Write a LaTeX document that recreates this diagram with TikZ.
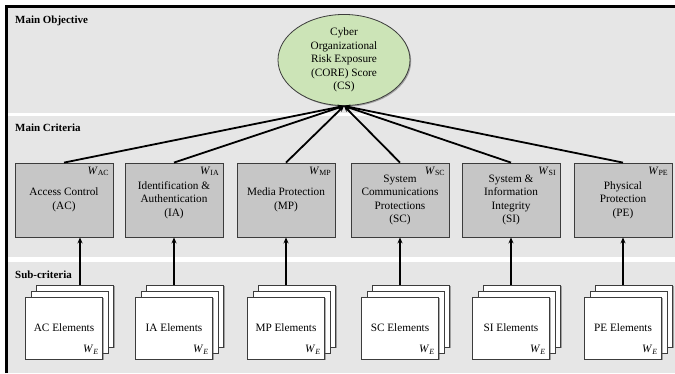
\documentclass[tikz,border=0pt]{standalone}
\usepackage{fontspec}
\setmainfont{Liberation Serif}
\usetikzlibrary{arrows.meta}
\usetikzlibrary{positioning}
\usetikzlibrary{shapes.geometric}
\usetikzlibrary{shadows}
\definecolor{coreBand}{HTML}{E6E6E6}
\definecolor{coreCrit}{HTML}{C6C6C6}
\definecolor{coreEdge}{HTML}{3C3C3C}
\definecolor{coreGreen}{HTML}{CCE4B7}
\tikzset{
  core crit/.style={
    rectangle,
    draw=coreEdge,
    line width=0.8bp,
    fill=coreCrit,
    minimum width=98bp,
    minimum height=74bp,
    align=center,
    inner sep=0pt,
    drop shadow={shadow xshift=1.2bp, shadow yshift=-1.2bp, fill=black!70, opacity=0.45},
  },
}
\tikzset{
  core elem/.style={
    rectangle,
    draw=coreEdge,
    line width=0.8bp,
    fill=white,
    minimum width=77bp,
    minimum height=62bp,
    align=center,
    inner sep=0pt,
    drop shadow={shadow xshift=1.2bp, shadow yshift=-1.2bp, fill=black!70, opacity=0.45},
  },
}
\tikzset{
  core weight/.style={
    anchor=north east,
    inner sep=0pt,
    xshift=-4bp,
    yshift=-4bp,
  },
}
\tikzset{
  core eweight/.style={
    anchor=south east,
    inner sep=0pt,
    xshift=-4bp,
    yshift=5bp,
  },
}
\tikzset{
  core band label/.style={
    anchor=west,
    inner sep=0pt,
    font=\fontsize{11}{13}\selectfont\bfseries,
  },
}
\tikzset{
  core link/.style={
    -{Stealth[length=6bp, width=5bp]},
    draw=black,
    line width=1.8bp,
  },
}
\tikzset{
  core figure/.style={
    x=1bp,
    y=-1bp,
    every node/.append style={font=\fontsize{11.3}{13.6}\selectfont},
  },
}
\newcommand{\critw}[1]{\textit{W}\textsubscript{#1}}
\newcommand{\elemw}{\textit{W}\textsubscript{\textit{E}}}

\begin{document}
\begin{tikzpicture}[core figure]
  \useasboundingbox (0,0) rectangle (675,373);
  \fill[white] (0,0) rectangle (675,373);

  % =========================================================================
  % Level bands and outer frame
  % =========================================================================
  \fill[coreBand] (8,8) rectangle (675,113);
  \fill[coreBand] (8,116) rectangle (675,257);
  \fill[coreBand] (8,262) rectangle (675,373);
  \draw[line width=3bp] (6.5,373) -- (6.5,6.5) -- (675,6.5);

  \node[core band label] (lblobj)  at (15,21)  {Main Objective};
  \node[core band label] (lblcrit) at (15,128) {Main Criteria};
  \node[core band label] (lblsub)  at (15,275) {Sub-criteria};

  % =========================================================================
  % Main objective: CORE score
  % =========================================================================
  \node[ellipse, draw=coreEdge, line width=0.8bp, fill=coreGreen,
        minimum width=132bp, minimum height=91bp, inner sep=0pt, align=center,
        drop shadow={shadow xshift=1.2bp, shadow yshift=-1.2bp, fill=black!70, opacity=0.45}]
    (cs) at (344,60)
    {Cyber\\Organizational\\Risk Exposure\\(CORE) Score\\(CS)};

  % =========================================================================
  % Main criteria
  % =========================================================================
  \node[core crit] (ac) at (64,200)  {Access Control\\(AC)};
  \node[core crit] (ia) at (174,200) {Identification \&\\Authentication\\(IA)};
  \node[core crit] (mp) at (286,200) {Media Protection\\(MP)};
  \node[core crit] (sc) at (400,200) {System\\Communications\\Protections\\(SC)};
  \node[core crit] (si) at (511,200) {System \&\\Information\\Integrity\\(SI)};
  \node[core crit] (pe) at (623,200) {Physical\\Protection\\(PE)};

  \node[core weight] (wac) at (ac.north east) {\critw{AC}};
  \node[core weight] (wia) at (ia.north east) {\critw{IA}};
  \node[core weight] (wmp) at (mp.north east) {\critw{MP}};
  \node[core weight] (wsc) at (sc.north east) {\critw{SC}};
  \node[core weight] (wsi) at (si.north east) {\critw{SI}};
  \node[core weight] (wpe) at (pe.north east) {\critw{PE}};

  % criteria -> objective
  \draw[core link] (ac.north) -- (cs.south);
  \draw[core link] (ia.north) -- (cs.south);
  \draw[core link] (mp.north) -- (cs.south);
  \draw[core link] (sc.north) -- (cs.south);
  \draw[core link] (si.north) -- (cs.south);
  \draw[core link] (pe.north) -- (cs.south);

  % =========================================================================
  % Sub-criteria: stacked element sheets (back, middle, front)
  % =========================================================================
  \node[core elem] (acEb) at (75,316)   {};
  \node[core elem] (acEm) at (69.5,322) {};
  \node[core elem] (acE)  at (64,328)   {AC Elements};
  \node[core eweight] (acw) at (acE.south east) {\elemw};

  \node[core elem] (iaEb) at (185,316)   {};
  \node[core elem] (iaEm) at (179.5,322) {};
  \node[core elem] (iaE)  at (174,328)   {IA Elements};
  \node[core eweight] (iaw) at (iaE.south east) {\elemw};

  \node[core elem] (mpEb) at (297,316)   {};
  \node[core elem] (mpEm) at (291.5,322) {};
  \node[core elem] (mpE)  at (286,328)   {MP Elements};
  \node[core eweight] (mpw) at (mpE.south east) {\elemw};

  \node[core elem] (scEb) at (411,316)   {};
  \node[core elem] (scEm) at (405.5,322) {};
  \node[core elem] (scE)  at (400,328)   {SC Elements};
  \node[core eweight] (scw) at (scE.south east) {\elemw};

  \node[core elem] (siEb) at (522,316)   {};
  \node[core elem] (siEm) at (516.5,322) {};
  \node[core elem] (siE)  at (511,328)   {SI Elements};
  \node[core eweight] (siw) at (siE.south east) {\elemw};

  \node[core elem] (peEb) at (634,316)   {};
  \node[core elem] (peEm) at (628.5,322) {};
  \node[core elem] (peE)  at (623,328)   {PE Elements};
  \node[core eweight] (pew) at (peE.south east) {\elemw};

  % elements -> criteria (AC arrow sits right of centre)
  \draw[core link] ([xshift=16bp]acE.north |- acEb.north) -- ([xshift=16bp]ac.south);
  \draw[core link] (iaE.north |- iaEb.north) -- (ia.south);
  \draw[core link] (mpE.north |- mpEb.north) -- (mp.south);
  \draw[core link] (scE.north |- scEb.north) -- (sc.south);
  \draw[core link] (siE.north |- siEb.north) -- (si.south);
  \draw[core link] (peE.north |- peEb.north) -- (pe.south);

\end{tikzpicture}
\end{document}
